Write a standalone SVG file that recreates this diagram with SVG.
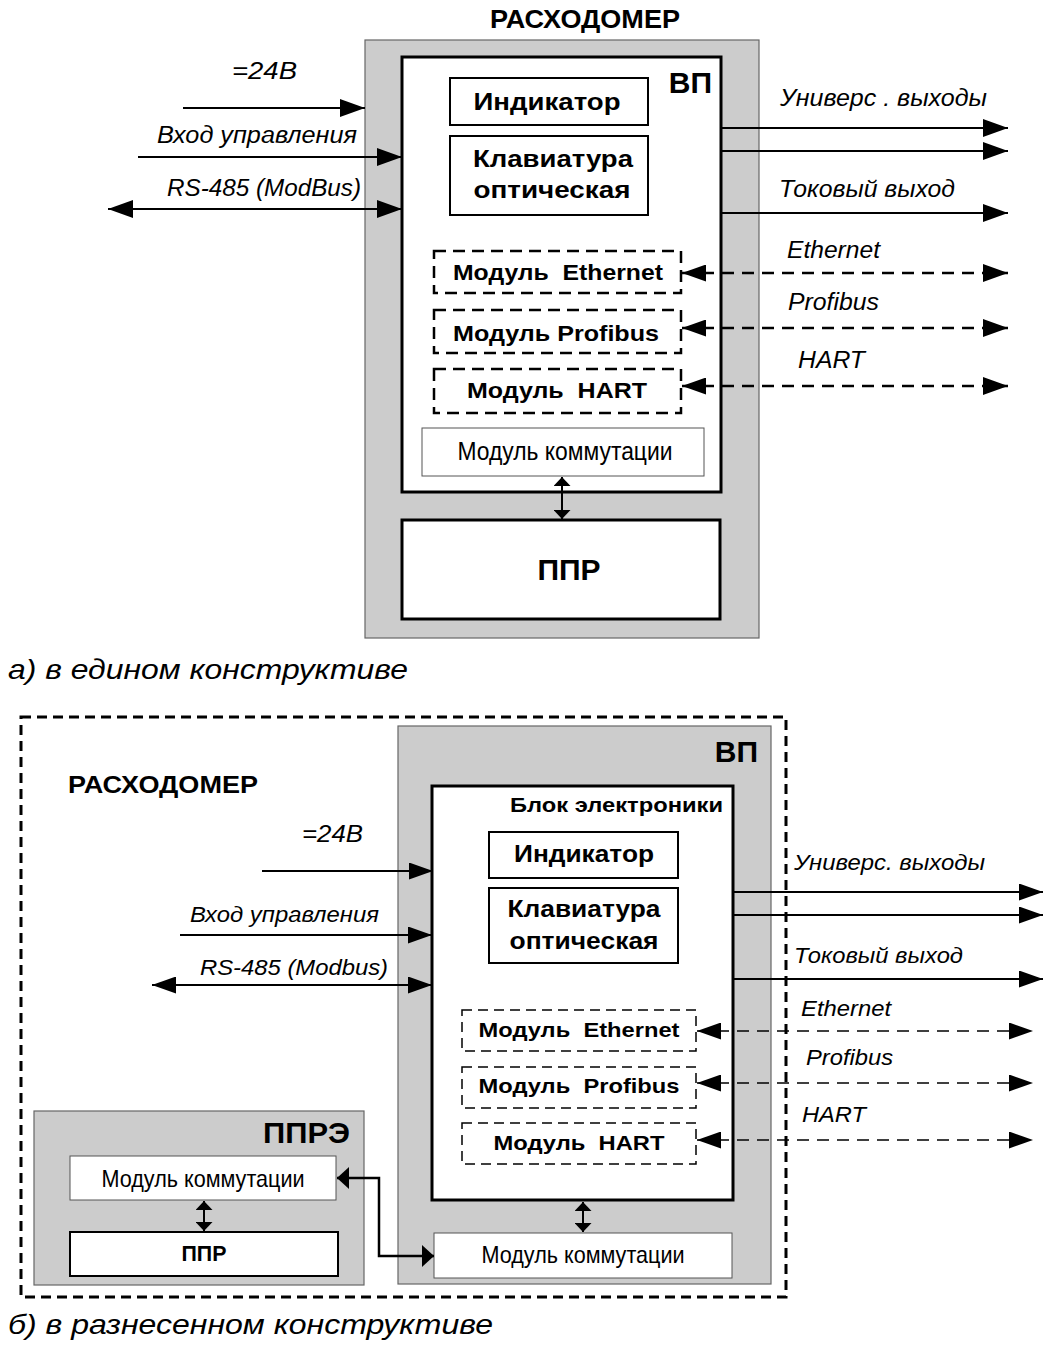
<svg xmlns="http://www.w3.org/2000/svg" width="1044" height="1357" viewBox="0 0 1044 1357">
<defs>
<style>
text{font-family:"Liberation Sans",Arial,sans-serif;fill:#000}
.b{font-weight:bold}
.i{font-style:italic}
.gray{fill:#cccccc;stroke:#666;stroke-width:1.2}
.thick{fill:#fff;stroke:#000;stroke-width:3}
.box{fill:#fff;stroke:#000;stroke-width:2}
.thin{fill:#fff;stroke:#555;stroke-width:1}
.dbox{fill:#fff;stroke:#000;stroke-width:2.5;stroke-dasharray:12 7}
.dbox2{fill:#fff;stroke:#000;stroke-width:1.5;stroke-dasharray:10 6}
.ln{fill:none;stroke:#000;stroke-width:2}
.dl{fill:none;stroke:#000;stroke-width:2.5;stroke-dasharray:12 8}
.dl2{fill:none;stroke:#000;stroke-width:1.6;stroke-dasharray:12 8}
</style>
<marker id="aL" markerUnits="userSpaceOnUse" markerWidth="25" markerHeight="18" refX="25" refY="9" orient="auto-start-reverse"><path d="M0,0 L25,9 L0,18 Z" fill="#000"/></marker>
<marker id="aM" markerUnits="userSpaceOnUse" markerWidth="24" markerHeight="17" refX="24" refY="8.5" orient="auto-start-reverse"><path d="M0,0 L24,8.5 L0,17 Z" fill="#000"/></marker>
<marker id="aS" markerUnits="userSpaceOnUse" markerWidth="9" markerHeight="17" refX="9" refY="8.5" orient="auto-start-reverse"><path d="M0,0 L9,8.5 L0,17 Z" fill="#000"/></marker>
<marker id="aN" markerUnits="userSpaceOnUse" markerWidth="12" markerHeight="22" refX="12" refY="11" orient="auto-start-reverse"><path d="M0,0 L12,11 L0,22 Z" fill="#000"/></marker>
</defs>
<rect width="1044" height="1357" fill="#fff"/>

<!-- ===== Part a ===== -->
<g id="a-title"><text x="490" y="28" class="b" font-size="25" textLength="190" lengthAdjust="spacingAndGlyphs">РАСХОДОМЕР</text></g>
<g id="a-housing"><rect x="365" y="40" width="394" height="598" class="gray"/></g>
<g id="a-vp">
<rect x="402" y="57" width="319" height="435" class="thick"/>
<text x="712" y="93" class="b" font-size="30" text-anchor="end">ВП</text>
</g>
<g id="a-indicator"><rect x="450" y="78" width="198" height="47" class="box"/>
<text x="547" y="110" class="b" font-size="24" text-anchor="middle" textLength="147" lengthAdjust="spacingAndGlyphs">Индикатор</text></g>
<g id="a-keyboard"><rect x="450" y="136" width="198" height="79" class="box"/>
<text x="553" y="167" class="b" font-size="24" text-anchor="middle" textLength="160" lengthAdjust="spacingAndGlyphs">Клавиатура</text>
<text x="552" y="198" class="b" font-size="24" text-anchor="middle" textLength="157" lengthAdjust="spacingAndGlyphs">оптическая</text></g>
<g id="a-eth"><rect x="434" y="251" width="247" height="42" class="dbox"/>
<text x="558" y="280" class="b" font-size="22" text-anchor="middle" textLength="210" lengthAdjust="spacingAndGlyphs" xml:space="preserve">Модуль  Ethernet</text></g>
<g id="a-prof"><rect x="434" y="310" width="247" height="43" class="dbox"/>
<text x="556" y="341" class="b" font-size="22" text-anchor="middle" textLength="206" lengthAdjust="spacingAndGlyphs">Модуль Profibus</text></g>
<g id="a-hart"><rect x="434" y="369" width="247" height="44" class="dbox"/>
<text x="557" y="398" class="b" font-size="22" text-anchor="middle" textLength="180" lengthAdjust="spacingAndGlyphs" xml:space="preserve">Модуль  HART</text></g>
<g id="a-comm"><rect x="422" y="428" width="282" height="48" class="thin"/>
<text x="565" y="460" font-size="25" text-anchor="middle" textLength="215" lengthAdjust="spacingAndGlyphs">Модуль коммутации</text></g>
<g id="a-ppr"><rect x="402" y="520" width="318" height="99" class="thick"/>
<text x="569" y="580" class="b" font-size="30" text-anchor="middle">ППР</text></g>

<g id="a-labels">
<text x="232" y="79" class="i" font-size="23" textLength="65" lengthAdjust="spacingAndGlyphs">=24В</text>
<text x="357" y="143" class="i" font-size="23" text-anchor="end" textLength="200" lengthAdjust="spacingAndGlyphs">Вход управления</text>
<text x="361" y="196" class="i" font-size="23" text-anchor="end" textLength="194" lengthAdjust="spacingAndGlyphs">RS-485 (ModBus)</text>
<text x="780" y="106" class="i" font-size="23" textLength="207" lengthAdjust="spacingAndGlyphs">Универс . выходы</text>
<text x="779" y="197" class="i" font-size="23" textLength="176" lengthAdjust="spacingAndGlyphs">Токовый выход</text>
<text x="787" y="258" class="i" font-size="23" textLength="93" lengthAdjust="spacingAndGlyphs">Ethernet</text>
<text x="788" y="310" class="i" font-size="23" textLength="91" lengthAdjust="spacingAndGlyphs">Profibus</text>
<text x="798" y="368" class="i" font-size="23" textLength="67" lengthAdjust="spacingAndGlyphs">HART</text>
</g>
<g id="a-connectors">
<line x1="183" y1="108" x2="365" y2="108" class="ln" marker-end="url(#aL)"/>
<line x1="138" y1="157" x2="402" y2="157" class="ln" marker-end="url(#aL)"/>
<line x1="108" y1="209" x2="402" y2="209" class="ln" marker-start="url(#aL)" marker-end="url(#aL)"/>
<line x1="721" y1="128" x2="1008" y2="128" class="ln" marker-end="url(#aL)"/>
<line x1="721" y1="151" x2="1008" y2="151" class="ln" marker-end="url(#aL)"/>
<line x1="721" y1="213" x2="1008" y2="213" class="ln" marker-end="url(#aL)"/>
<line x1="682" y1="273" x2="1008" y2="273" class="dl" marker-start="url(#aM)" marker-end="url(#aL)"/>
<line x1="682" y1="328" x2="1008" y2="328" class="dl" marker-start="url(#aM)" marker-end="url(#aL)"/>
<line x1="682" y1="386" x2="1008" y2="386" class="dl" marker-start="url(#aM)" marker-end="url(#aL)"/>
<line x1="562" y1="477" x2="562" y2="519" class="ln" marker-start="url(#aS)" marker-end="url(#aS)"/>
</g>
<g id="a-caption"><text x="8" y="679" class="i" font-size="28" textLength="400" lengthAdjust="spacingAndGlyphs">а) в едином конструктиве</text></g>

<!-- ===== Part b ===== -->
<g id="b-frame"><rect x="21" y="717" width="765" height="580" fill="none" stroke="#000" stroke-width="3" stroke-dasharray="10 6"/>
<text x="68" y="793" class="b" font-size="24" textLength="190" lengthAdjust="spacingAndGlyphs">РАСХОДОМЕР</text></g>
<g id="b-vp"><rect x="398" y="726" width="373" height="558" class="gray"/>
<text x="758" y="762" class="b" font-size="30" text-anchor="end">ВП</text></g>
<g id="b-electronics"><rect x="432" y="786" width="301" height="414" class="thick"/>
<text x="723" y="812" class="b" font-size="21" text-anchor="end" textLength="213" lengthAdjust="spacingAndGlyphs">Блок электроники</text></g>
<g id="b-indicator"><rect x="489" y="832" width="189" height="46" class="box"/>
<text x="584" y="862" class="b" font-size="23" text-anchor="middle" textLength="140" lengthAdjust="spacingAndGlyphs">Индикатор</text></g>
<g id="b-keyboard"><rect x="489" y="888" width="189" height="75" class="box"/>
<text x="584" y="917" class="b" font-size="23" text-anchor="middle" textLength="153" lengthAdjust="spacingAndGlyphs">Клавиатура</text>
<text x="584" y="949" class="b" font-size="23" text-anchor="middle" textLength="149" lengthAdjust="spacingAndGlyphs">оптическая</text></g>
<g id="b-eth"><rect x="462" y="1010" width="234" height="41" class="dbox2"/>
<text x="579" y="1037" class="b" font-size="21" text-anchor="middle" textLength="201" lengthAdjust="spacingAndGlyphs" xml:space="preserve">Модуль  Ethernet</text></g>
<g id="b-prof"><rect x="462" y="1067" width="234" height="41" class="dbox2"/>
<text x="579" y="1093" class="b" font-size="21" text-anchor="middle" textLength="201" lengthAdjust="spacingAndGlyphs" xml:space="preserve">Модуль  Profibus</text></g>
<g id="b-hart"><rect x="462" y="1123" width="234" height="41" class="dbox2"/>
<text x="579" y="1150" class="b" font-size="21" text-anchor="middle" textLength="171" lengthAdjust="spacingAndGlyphs" xml:space="preserve">Модуль  HART</text></g>
<g id="b-comm"><rect x="434" y="1233" width="298" height="45" class="thin"/>
<text x="583" y="1263" font-size="24" text-anchor="middle" textLength="203" lengthAdjust="spacingAndGlyphs">Модуль коммутации</text></g>
<g id="b-ppre"><rect x="34" y="1111" width="330" height="174" class="gray"/>
<text x="350" y="1143" class="b" font-size="30" text-anchor="end" textLength="87" lengthAdjust="spacingAndGlyphs">ППРЭ</text></g>
<g id="b-ppre-comm"><rect x="70" y="1156" width="266" height="44" class="thin"/>
<text x="203" y="1187" font-size="24" text-anchor="middle" textLength="203" lengthAdjust="spacingAndGlyphs">Модуль коммутации</text></g>
<g id="b-ppr"><rect x="70" y="1232" width="268" height="44" class="box"/>
<text x="204" y="1261" class="b" font-size="22" text-anchor="middle" textLength="45" lengthAdjust="spacingAndGlyphs">ППР</text></g>

<g id="b-labels">
<text x="302" y="842" class="i" font-size="23" textLength="61" lengthAdjust="spacingAndGlyphs">=24В</text>
<text x="379" y="922" class="i" font-size="22" text-anchor="end" textLength="189" lengthAdjust="spacingAndGlyphs">Вход управления</text>
<text x="388" y="975" class="i" font-size="22" text-anchor="end" textLength="188" lengthAdjust="spacingAndGlyphs">RS-485 (Modbus)</text>
<text x="794" y="870" class="i" font-size="22" textLength="191" lengthAdjust="spacingAndGlyphs">Универс. выходы</text>
<text x="794" y="963" class="i" font-size="22" textLength="169" lengthAdjust="spacingAndGlyphs">Токовый выход</text>
<text x="801" y="1016" class="i" font-size="22" textLength="90" lengthAdjust="spacingAndGlyphs">Ethernet</text>
<text x="806" y="1065" class="i" font-size="22" textLength="87" lengthAdjust="spacingAndGlyphs">Profibus</text>
<text x="802" y="1122" class="i" font-size="22" textLength="64" lengthAdjust="spacingAndGlyphs">HART</text>
</g>
<g id="b-connectors">
<line x1="262" y1="871" x2="433" y2="871" class="ln" marker-end="url(#aM)"/>
<line x1="180" y1="935" x2="432" y2="935" class="ln" marker-end="url(#aM)"/>
<line x1="152" y1="985" x2="432" y2="985" class="ln" marker-start="url(#aM)" marker-end="url(#aM)"/>
<line x1="733" y1="892" x2="1043" y2="892" class="ln" marker-end="url(#aM)"/>
<line x1="733" y1="915" x2="1043" y2="915" class="ln" marker-end="url(#aM)"/>
<line x1="733" y1="979" x2="1043" y2="979" class="ln" marker-end="url(#aM)"/>
<line x1="697" y1="1031" x2="1033" y2="1031" class="dl2" marker-start="url(#aM)" marker-end="url(#aM)"/>
<line x1="697" y1="1083" x2="1033" y2="1083" class="dl2" marker-start="url(#aM)" marker-end="url(#aM)"/>
<line x1="697" y1="1140" x2="1033" y2="1140" class="dl2" marker-start="url(#aM)" marker-end="url(#aM)"/>
<line x1="583" y1="1202" x2="583" y2="1232" class="ln" marker-start="url(#aS)" marker-end="url(#aS)"/>
<line x1="204" y1="1201" x2="204" y2="1231" class="ln" marker-start="url(#aS)" marker-end="url(#aS)"/>
<path d="M337,1178 H379 V1256 H434" fill="none" stroke="#000" stroke-width="2.5" marker-start="url(#aN)" marker-end="url(#aN)"/>
</g>
<g id="b-caption"><text x="8" y="1334" class="i" font-size="28" textLength="485" lengthAdjust="spacingAndGlyphs">б) в разнесенном конструктиве</text></g>
</svg>
